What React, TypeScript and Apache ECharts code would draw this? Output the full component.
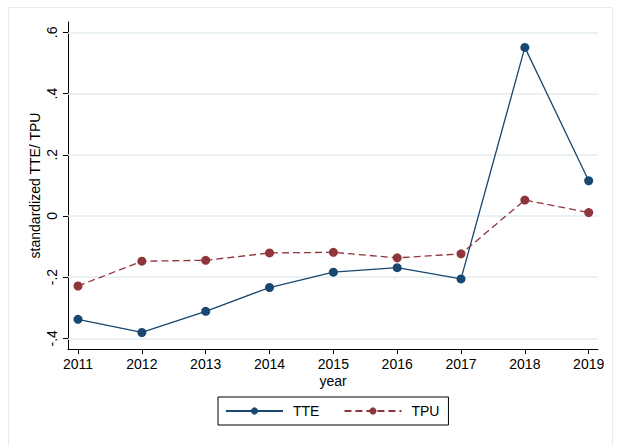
import React, { useEffect, useRef } from "react";
import * as echarts from "echarts";

const years = [2011, 2012, 2013, 2014, 2015, 2016, 2017, 2018, 2019];
const tte = [-0.338, -0.381, -0.312, -0.234, -0.184, -0.169, -0.206, 0.551, 0.115];
const tpu = [-0.229, -0.148, -0.145, -0.121, -0.119, -0.137, -0.124, 0.052, 0.011];
const yTicks = [-0.4, -0.2, 0, 0.2, 0.4, 0.6];
const yLabels = ["-.4", "-.2", "0", ".2", ".4", ".6"];

const FONT = "Liberation Sans";
const NAVY = "#1a476f";
const MAROON = "#90353b";

export default function App() {
  const ref = useRef<HTMLDivElement>(null);
  useEffect(() => {
    document.body.style.margin = "0";
    const chart = echarts.init(ref.current!, null, { renderer: "svg" });
    chart.setOption({
      animation: false,
      backgroundColor: "#ffffff",
      textStyle: { fontFamily: FONT },
      grid: { left: 68, right: 22, top: 22, bottom: 97 },
      graphic: [
        {
          type: "rect",
          shape: { x: 8.5, y: 7.5, width: 604, height: 460 },
          style: { fill: "none", stroke: "#e6ecee", lineWidth: 1 },
          silent: true,
        },
      ],
      legend: {
        left: 218,
        top: 397,
        orient: "horizontal",
        padding: [7, 9, 7, 7],
        itemWidth: 57,
        itemHeight: 9,
        itemGap: 24,
        borderColor: "#000",
        borderWidth: 1,
        textStyle: { fontFamily: FONT, fontSize: 14, color: "#000", padding: [0, 0, 0, 5] },
        data: ["TTE", "TPU"],
      },
      xAxis: {
        type: "value",
        min: 2010.843,
        max: 2019.146,
        name: "year",
        nameLocation: "middle",
        nameGap: 25,
        nameMoveOverlap: false,
        nameTextStyle: { fontFamily: FONT, fontSize: 14, color: "#000" },
        axisLine: { show: true, onZero: false, lineStyle: { color: "#000", width: 1 } },
        axisTick: { show: true, length: 5, lineStyle: { color: "#000" }, customValues: years },
        axisLabel: {
          fontFamily: FONT,
          fontSize: 14,
          color: "#000",
          margin: 8,
          customValues: years,
          formatter: (v: number) => String(Math.round(v)),
        },
        splitLine: { show: false },
      },
      yAxis: {
        type: "value",
        min: -0.435,
        max: 0.634,
        name: "standardized TTE/ TPU",
        nameLocation: "middle",
        nameRotate: 90,
        nameGap: 26,
        nameMoveOverlap: false,
        nameTextStyle: { fontFamily: FONT, fontSize: 14, color: "#000" },
        axisLine: { show: true, onZero: false, lineStyle: { color: "#000", width: 1 } },
        axisTick: { show: true, length: 5, lineStyle: { color: "#000" }, customValues: yTicks },
        axisLabel: {
          fontFamily: FONT,
          fontSize: 14,
          color: "#000",
          margin: 9,
          rotate: 90,
          customValues: yTicks,
          formatter: (v: number) => {
            const i = yTicks.findIndex((t) => Math.abs(t - v) < 1e-6);
            return i >= 0 ? yLabels[i] : "";
          },
        },
        splitLine: { show: false },
      },
      series: [
        {
          name: "TTE",
          type: "line",
          z: 3,
          data: years.map((y, i) => [y, tte[i]]),
          symbol: "circle",
          symbolSize: 9,
          itemStyle: { color: NAVY },
          lineStyle: { color: NAVY, width: 1.3 },
          markLine: {
            silent: true,
            z: 1,
            symbol: "none",
            label: { show: false },
            emphasis: { disabled: true },
            lineStyle: { color: "#e2ecef", width: 1.5, type: "solid" },
            data: yTicks.map((t) => ({ yAxis: t })),
          },
        },
        {
          name: "TPU",
          type: "line",
          z: 3,
          data: years.map((y, i) => [y, tpu[i]]),
          symbol: "circle",
          symbolSize: 9,
          itemStyle: { color: MAROON },
          lineStyle: { color: MAROON, width: 1.3, type: [7, 4] },
        },
      ],
    });
    return () => chart.dispose();
  }, []);
  return <div ref={ref} style={{ width: 620, height: 446 }} />;
}
